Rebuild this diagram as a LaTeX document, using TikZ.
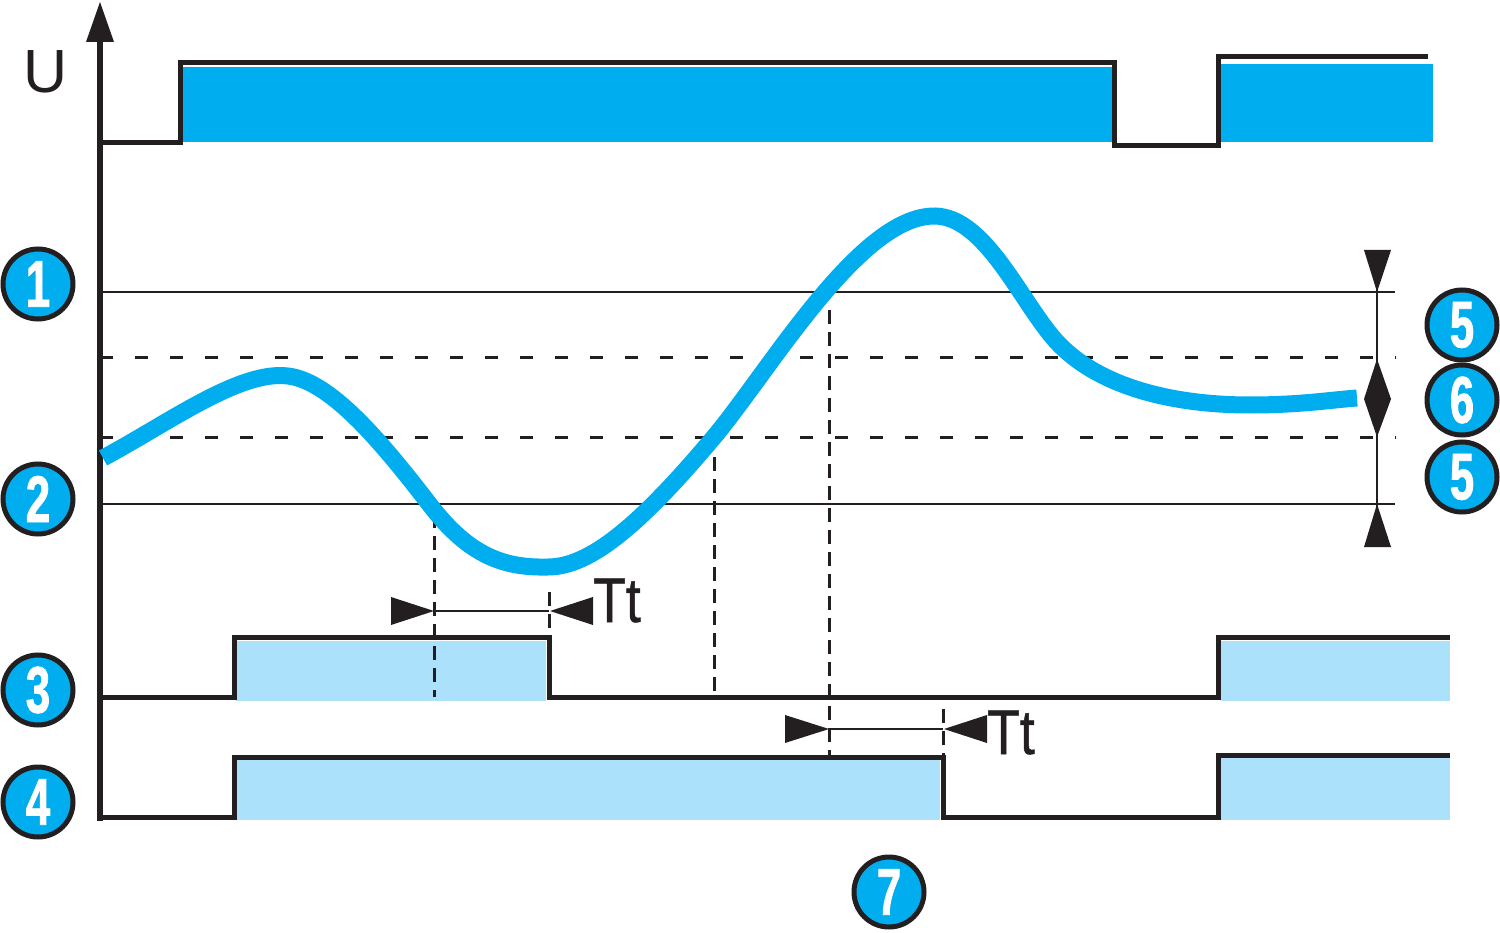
\documentclass[tikz,border=0pt]{standalone}
\usepackage{fontspec}
\setmainfont{Liberation Sans}
\newfontfamily\numfont[FakeStretch=0.66,FakeBold=1.2]{Liberation Sans Bold}
\newfontfamily\ttlfont[FakeStretch=0.85,FakeBold=0.8]{Liberation Sans}
\usetikzlibrary{shapes.geometric}
\definecolor{cyanb}{RGB}{0,174,239}
\definecolor{lightb}{RGB}{171,225,250}
\definecolor{ink}{RGB}{35,31,32}
\begin{document}
\begin{tikzpicture}[x=1pt,y=-1pt,line join=miter,
  sig/.style={draw=ink,line width=5pt},
  thr/.style={draw=ink,line width=2.6pt},
  hdash/.style={draw=ink,line width=3pt,dash pattern=on 13pt off 22pt},
  vdash/.style={draw=ink,line width=3pt,dash pattern=on 14pt off 8pt},
  thin/.style={draw=ink,line width=2.6pt},
  badge/.style={circle,draw=ink,line width=5pt,fill=cyanb,minimum size=70pt,inner sep=0pt,text=white,font=\numfont\fontsize{66}{66}\selectfont},
  lbl/.style={text=ink,inner sep=0pt,anchor=base west,font=\ttlfont\fontsize{63}{63}\selectfont}]
\useasboundingbox (0,0) rectangle (1500,933);

% axis
\draw[ink,line width=6pt] (100,821) -- (100,40);
\fill[ink] (86,42) -- (114,42) -- (100,2) -- cycle;
\node[text=ink,font=\fontsize{61}{61}\selectfont,inner sep=0pt] (U) at (46,72) {U};

% top signal
\fill[cyanb] (182,67) rectangle (1112,142);
\fill[cyanb] (1220,64) rectangle (1433,142);
\draw[sig] (100,143) -- (180,143) -- (180,63) -- (1114,63) -- (1114,146) -- (1218,146) -- (1218,57) -- (1428,57);

% thresholds
\draw[thr] (100,292) -- (1395,292);
\draw[thr] (100,504) -- (1395,504);
\draw[hdash] (100,358) -- (1396,358);
\draw[hdash] (100,437) -- (1396,437);

% dimension line on right
\draw[thin] (1377,252) -- (1377,545);
\fill[ink] (1364,250) -- (1391,250) -- (1377,292) -- cycle;
\fill[ink] (1364,399) -- (1391,399) -- (1377,359) -- cycle;
\fill[ink] (1364,399) -- (1391,399) -- (1377,437) -- cycle;
\fill[ink] (1364,547) -- (1391,547) -- (1377,504) -- cycle;

% row 3 and row 4 fills
\fill[lightb] (236,641) rectangle (546,701);
\fill[lightb] (1221,641) rectangle (1450,701);
\fill[lightb] (236,760) rectangle (940,820);
\fill[lightb] (1221,758) rectangle (1450,820);

% vertical dashed markers
\draw[vdash] (434,514) -- (434,697);
\draw[vdash] (549,592) -- (549,637);
\draw[vdash] (714,457) -- (714,697);
\draw[vdash] (829,310) -- (829,757);
\draw[vdash] (943,709) -- (943,757);

% row 3 and row 4 signals
\draw[sig] (100,697) -- (234,697) -- (234,637) -- (549,637) -- (549,697) -- (1218,697) -- (1218,637) -- (1450,637);
\draw[sig] (100,817) -- (234,817) -- (234,757) -- (943,757) -- (943,817) -- (1218,817) -- (1218,755) -- (1450,755);

% Tt dimensions
\draw[thin] (434,611) -- (549,611);
\fill[ink] (391,597) -- (391,625) -- (434,611) -- cycle;
\fill[ink] (593,597) -- (593,625) -- (550,611) -- cycle;
\node[lbl] (tt1) at (593,622) {Tt};
\draw[thin] (829,729) -- (943,729);
\fill[ink] (785,715) -- (785,743) -- (829,729) -- cycle;
\fill[ink] (987,715) -- (987,743) -- (944,729) -- cycle;
\node[lbl] (tt2) at (987,754) {Tt};

% measured signal curve
\draw[cyanb,line width=17pt,line cap=butt]
  (103,458) .. controls (170,422) and (240,370) .. (288,376)
  .. controls (330,381) and (380,440) .. (430,505)
  .. controls (470,557) and (505,568) .. (548,567)
  .. controls (590,567) and (640,525) .. (714,437)
  .. controls (770,370) and (860,215) .. (935,216)
  .. controls (985,217) and (1020,300) .. (1055,340)
  .. controls (1100,390) and (1180,405) .. (1250,405)
  .. controls (1300,405) and (1330,400) .. (1357,398);

% badges
\node[badge] (b1) at (38,284) {1};
\node[badge] (b2) at (38,499) {2};
\node[badge] (b3) at (38,690) {3};
\node[badge] (b4) at (38,802) {4};
\node[badge] (b5a) at (1462,325) {5};
\node[badge] (b6) at (1462,400) {6};
\node[badge] (b5b) at (1462,477) {5};
\node[badge] (b7) at (889,892) {7};
\end{tikzpicture}
\end{document}
